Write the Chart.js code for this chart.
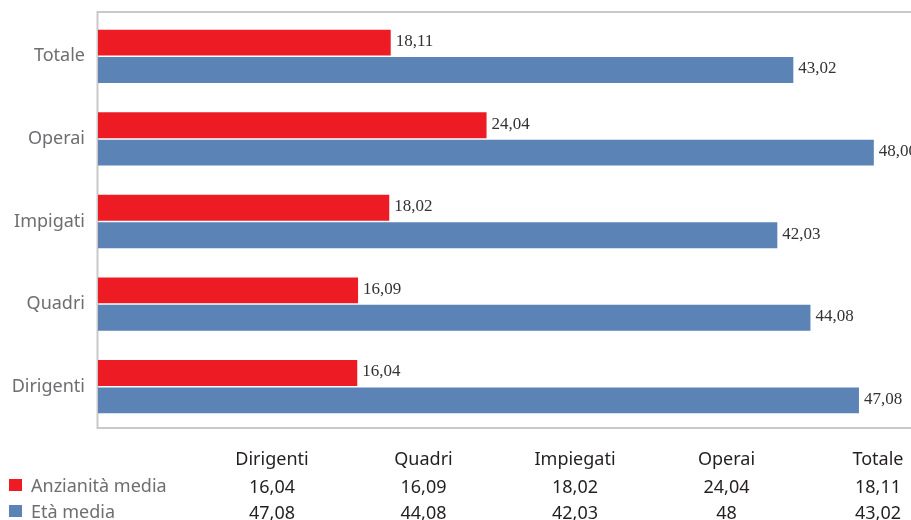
<!DOCTYPE html>
<html lang="it">
<head>
<meta charset="utf-8">
<title>Anzianità ed età media</title>
<script src="https://cdn.jsdelivr.net/npm/chart.js@4.4.1/dist/chart.umd.min.js"></script>
<style>
  html, body { margin: 0; padding: 0; background: #fff; overflow: hidden; }
</style>
</head>
<body>
<canvas id="etaChart" width="911" height="520"></canvas>
<script>
// dati per categoria, nell'ordine della tabella
const categorie = ['Dirigenti', 'Quadri', 'Impiegati', 'Operai', 'Totale'];
const etichetteAsse = ['Dirigenti', 'Quadri', 'Impigati', 'Operai', 'Totale'];
const anzianitaMedia = [16.04, 16.09, 18.02, 24.04, 18.11];
const etaMedia = [47.08, 44.08, 42.03, 48, 43.02];
const nomiSerie = ['Anzianità media', 'Età media'];
const coloriSerie = ['#ed1c24', '#5b83b5'];

const fontSans = '"Noto Sans", "Open Sans", sans-serif';
const grigio = '#6d6e71';

// cornice grigia: sopra, a sinistra e sotto l'area del grafico
const cornice = {
  id: 'cornice',
  beforeDatasetsDraw(chart) {
    const { ctx, chartArea: a } = chart;
    ctx.save();
    ctx.strokeStyle = '#c9c9c9';
    ctx.lineWidth = 2;
    ctx.beginPath();
    ctx.moveTo(chart.width, a.top - 3);
    ctx.lineTo(a.left - 0.5, a.top - 3);
    ctx.lineTo(a.left - 0.5, a.bottom);
    ctx.lineTo(chart.width, a.bottom);
    ctx.stroke();
    ctx.restore();
  }
};

// valore alla fine di ogni barra
const valoriBarre = {
  id: 'valoriBarre',
  afterDatasetsDraw(chart) {
    const ctx = chart.ctx;
    ctx.save();
    ctx.font = '17px "Liberation Serif", serif';
    ctx.fillStyle = '#333';
    ctx.textBaseline = 'middle';
    chart.data.datasets.forEach((ds, i) => {
      chart.getDatasetMeta(i).data.forEach((bar, j) => {
        ctx.fillText(ds.data[j].toFixed(2).replace('.', ','), bar.x + 5, bar.y - 1);
      });
    });
    ctx.restore();
  }
};

// tabella dati con legenda sotto il grafico
const primaColonna = 272;
const passoColonne = 151.5;
const tabellaDati = {
  id: 'tabellaDati',
  afterDraw(chart) {
    const ctx = chart.ctx;
    const righe = [anzianitaMedia, etaMedia];
    const cx = k => primaColonna + k * passoColonne;
    ctx.save();
    ctx.font = '18px ' + fontSans;
    ctx.textAlign = 'center';
    ctx.textBaseline = 'alphabetic';
    ctx.fillStyle = '#231f20';
    categorie.forEach((c, k) => ctx.fillText(c, cx(k), 465));
    righe.forEach((valori, r) => {
      const y = 492 + r * 26;
      ctx.fillStyle = coloriSerie[r];
      ctx.fillRect(9, y - 13, 13, 12);
      ctx.textAlign = 'left';
      ctx.fillStyle = grigio;
      ctx.fillText(nomiSerie[r], 31, y);
      ctx.textAlign = 'center';
      ctx.fillStyle = '#231f20';
      valori.forEach((v, k) => ctx.fillText(String(v).replace('.', ','), cx(k), y + 1));
    });
    ctx.restore();
  }
};

new Chart(document.getElementById('etaChart').getContext('2d'), {
  type: 'bar',
  data: {
    labels: etichetteAsse,
    datasets: [
      { label: nomiSerie[0], data: anzianitaMedia, backgroundColor: coloriSerie[0] },
      { label: nomiSerie[1], data: etaMedia, backgroundColor: coloriSerie[1] }
    ]
  },
  options: {
    indexAxis: 'y',
    responsive: false,
    animation: false,
    categoryPercentage: 0.664,
    barPercentage: 0.945,
    layout: { padding: { top: 15, bottom: 92, left: 0, right: 0 } },
    plugins: {
      legend: { display: false },
      tooltip: { enabled: false }
    },
    scales: {
      x: { display: false, min: 0, max: 50.3 },
      y: {
        reverse: true,
        grid: { display: false, drawTicks: false },
        border: { display: false },
        ticks: { color: grigio, font: { family: fontSans, size: 18 }, padding: 13 },
        afterFit(scale) {
          scale.width = 98;
          scale.paddingTop = 0;
          scale.paddingBottom = 0;
        }
      }
    }
  },
  plugins: [cornice, valoriBarre, tabellaDati]
});
</script>
</body>
</html>
